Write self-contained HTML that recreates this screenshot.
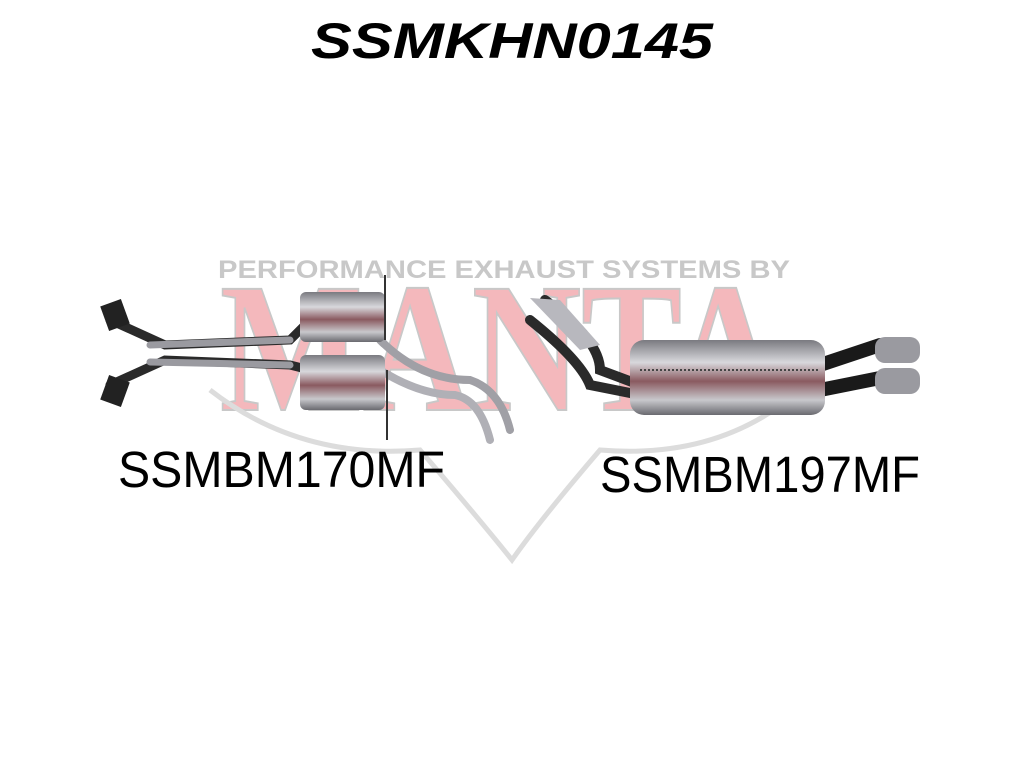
<!DOCTYPE html>
<html><head><style>
html,body{margin:0;padding:0;background:#fff;width:1024px;height:768px;overflow:hidden}
</style></head><body>
<svg width="1024" height="768" viewBox="0 0 1024 768" xmlns="http://www.w3.org/2000/svg">
<defs>
<linearGradient id="m" x1="0" y1="0" x2="0" y2="1">
<stop offset="0" stop-color="#7a7a80"/><stop offset="0.3" stop-color="#d8d8dc"/><stop offset="0.55" stop-color="#8a5a60"/><stop offset="0.8" stop-color="#c8c8cc"/><stop offset="1" stop-color="#6a6a70"/>
</linearGradient>
</defs>
<text x="512" y="58" text-anchor="middle" font-family="Liberation Sans, sans-serif" font-weight="bold" font-style="italic" font-size="50" textLength="402" lengthAdjust="spacingAndGlyphs" fill="#000">SSMKHN0145</text>
<!-- watermark -->
<text x="504" y="278" text-anchor="middle" font-family="Liberation Sans, sans-serif" font-weight="bold" font-size="25" textLength="572" lengthAdjust="spacingAndGlyphs" fill="#c8c8c8">PERFORMANCE EXHAUST SYSTEMS BY</text>
<text x="500" y="410" text-anchor="middle" font-family="Liberation Serif, serif" font-weight="bold" font-size="185" textLength="560" lengthAdjust="spacingAndGlyphs" fill="#f4b8bc" stroke="#c8c8c8" stroke-width="2">MANTA</text>
<path d="M210 390 Q300 460 420 450 Q480 520 512 560 Q540 520 600 450 Q720 460 800 390" fill="none" stroke="#dcdcdc" stroke-width="5"/>
<!-- left system -->
<g stroke-linecap="round" fill="none">
<path d="M110 320 L165 345 L290 340 L310 320" stroke="#2a2a2a" stroke-width="9"/>
<path d="M110 385 L165 360 L290 365 L310 370" stroke="#2a2a2a" stroke-width="9"/>
<path d="M150 345 L290 340" stroke="#9a9aa0" stroke-width="7"/>
<path d="M150 362 L290 365" stroke="#9a9aa0" stroke-width="7"/>
<path d="M380 340 Q420 380 470 380 Q500 390 510 430" stroke="#a0a0a6" stroke-width="8"/>
<path d="M380 370 Q420 395 455 395 Q480 400 490 440" stroke="#b0b0b6" stroke-width="8"/>
</g>
<rect x="104" y="302" width="22" height="26" fill="#222" transform="rotate(-20 115 315)"/>
<rect x="104" y="378" width="22" height="26" fill="#222" transform="rotate(20 115 391)"/>
<rect x="300" y="292" width="85" height="50" rx="6" fill="url(#m)"/>
<rect x="300" y="355" width="85" height="55" rx="6" fill="url(#m)"/>
<line x1="385" y1="275" x2="385" y2="340" stroke="#333" stroke-width="2"/>
<line x1="387" y1="370" x2="387" y2="440" stroke="#333" stroke-width="2"/>
<!-- right system -->
<g stroke-linecap="round" fill="none">
<path d="M545 300 Q600 340 600 370 L640 385" stroke="#2a2a2a" stroke-width="10"/>
<path d="M530 320 Q580 360 590 385 L640 395" stroke="#2a2a2a" stroke-width="10"/>
<path d="M820 365 L880 345" stroke="#1a1a1a" stroke-width="14"/>
<path d="M820 390 L880 378" stroke="#1a1a1a" stroke-width="14"/>
</g>
<path d="M530 298 L560 300 L600 345 L580 350 Z" fill="#b8b8be"/>
<rect x="630" y="340" width="195" height="75" rx="14" fill="url(#m)"/>
<line x1="640" y1="370" x2="820" y2="370" stroke="#444" stroke-width="2" stroke-dasharray="2 2"/>
<rect x="875" y="337" width="45" height="26" rx="10" fill="#9a9aa0"/>
<rect x="875" y="368" width="45" height="26" rx="10" fill="#9a9aa0"/>
<!-- labels -->
<text x="118" y="487" font-family="Liberation Sans, sans-serif" font-size="51" textLength="327" lengthAdjust="spacingAndGlyphs" fill="#000">SSMBM170MF</text>
<text x="600" y="492" font-family="Liberation Sans, sans-serif" font-size="51" textLength="320" lengthAdjust="spacingAndGlyphs" fill="#000">SSMBM197MF</text>
</svg>
</body></html>
